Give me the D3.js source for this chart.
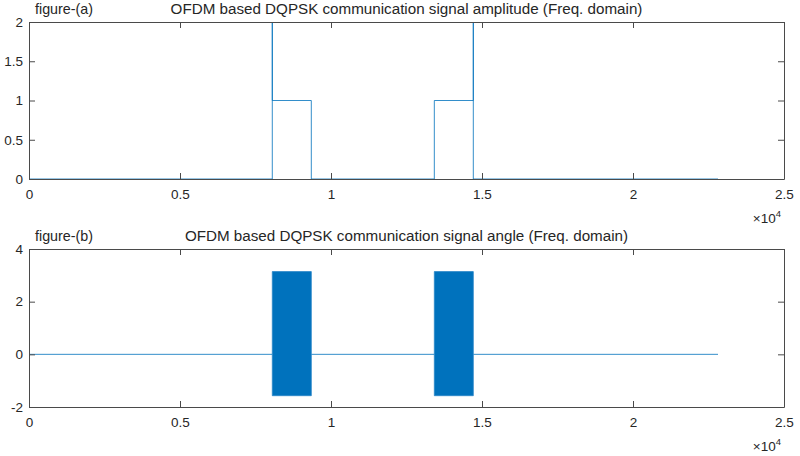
<!DOCTYPE html>
<html>
<head>
<meta charset="utf-8">
<script src="https://cdn.jsdelivr.net/npm/d3@7"></script>
<style>
  html, body { margin: 0; padding: 0; background: #fff; }
  svg { display: block; font-family: "Liberation Sans", Arial, Helvetica, sans-serif; }
</style>
</head>
<body>
<svg id="chart" width="800" height="456"></svg>
<script>
// ---------- data ----------
const xDomain = [0, 25000];
const xTickValues = [0, 5000, 10000, 15000, 20000, 25000];
const xTickLabels = ["0", "0.5", "1", "1.5", "2", "2.5"];
const xExponentBase = "\u00d710";
const xExponent = "4";

// (a) amplitude spectrum: breakpoints (sample index) and magnitudes
const ampX = [0, 8056, 8056, 8056, 9348, 9348, 13421, 13421, 14712, 14712, 14712, 22815];
const ampY = [0, 0, 2.6, 1, 1, 0, 0, 1, 1, 2.6, 0, 0];
const ampDomain = [0, 2];
const ampTicks = [0, 0.5, 1, 1.5, 2];
const ampTickLabels = ["0", "0.5", "1", "1.5", "2"];

// (b) angle spectrum: flat segments at zero and densely oscillating bands
const angleFlatStart = [0, 9348, 14712];
const angleFlatEnd = [8056, 13421, 22815];
const angleFlatValue = [0, 0, 0];
const angleBandStart = [8056, 13421];
const angleBandEnd = [9348, 14712];
const angleBandMin = [-1.5708, -1.5708];
const angleBandMax = [3.1416, 3.1416];
const angleDomain = [-2, 4];
const angleTicks = [-2, 0, 2, 4];
const angleTickLabels = ["-2", "0", "2", "4"];

const titles = [
  "OFDM based DQPSK communication signal amplitude (Freq. domain)",
  "OFDM based DQPSK communication signal angle (Freq. domain)"
];
const panelLabels = ["figure-(a)", "figure-(b)"];

// ---------- layout ----------
const svg = d3.select("#chart");
const left = 29, right = 784;
const panels = [
  { top: 22, bottom: 179, domain: ampDomain, ticks: ampTicks, labels: ampTickLabels },
  { top: 249, bottom: 407, domain: angleDomain, ticks: angleTicks, labels: angleTickLabels }
];
const axisColor = "#4a4a4a";
const textColor = "#262626";
const lineColor = "#0072BD";
const tickLen = 6;

const x = d3.scaleLinear().domain(xDomain).range([left, right]);

panels.forEach((p, i) => {
  const y = d3.scaleLinear().domain(p.domain).range([p.bottom, p.top]);
  const g = svg.append("g");

  svg.append("clipPath").attr("id", "clip" + i)
    .append("rect").attr("x", left).attr("y", p.top)
    .attr("width", right - left).attr("height", p.bottom - p.top);

  const data = g.append("g").attr("clip-path", `url(#clip${i})`);
  if (i === 0) {
    const pts = ampX.map((v, k) => [v, ampY[k]]);
    data.append("path")
      .attr("d", d3.line().x(d => x(d[0])).y(d => y(d[1]))(pts))
      .attr("fill", "none").attr("stroke", lineColor).attr("stroke-width", 1).attr("stroke-opacity", 0.8);
  } else {
    angleFlatStart.forEach((s, k) => {
      const pts = [[s, angleFlatValue[k]], [angleFlatEnd[k], angleFlatValue[k]]];
      data.append("path")
        .attr("d", d3.line().x(d => x(d[0])).y(d => y(d[1]))(pts))
        .attr("fill", "none").attr("stroke", lineColor).attr("stroke-width", 1).attr("stroke-opacity", 0.8);
    });
    angleBandStart.forEach((s, k) => {
      const pts = [s, angleBandEnd[k]];
      data.append("path")
        .attr("d", d3.area().x(d => x(d)).y0(y(angleBandMin[k])).y1(y(angleBandMax[k]))(pts))
        .attr("fill", lineColor).attr("stroke", "#2a86c8").attr("stroke-width", 0.8);
    });
  }

  const axB = d3.axisBottom(x).tickValues(xTickValues).tickFormat((d, k) => xTickLabels[k])
    .tickSizeInner(-tickLen).tickSizeOuter(0).tickPadding(10);
  const axT = d3.axisTop(x).tickValues(xTickValues).tickFormat("")
    .tickSizeInner(-tickLen).tickSizeOuter(0);
  const axL = d3.axisLeft(y).tickValues(p.ticks).tickFormat((d, k) => p.labels[k])
    .tickSizeInner(-tickLen).tickSizeOuter(0).tickPadding(6);
  const axR = d3.axisRight(y).tickValues(p.ticks).tickFormat("")
    .tickSizeInner(-tickLen).tickSizeOuter(0);

  const gB = g.append("g").attr("transform", `translate(0,${p.bottom})`).call(axB);
  const gT = g.append("g").attr("transform", `translate(0,${p.top})`).call(axT);
  const gL = g.append("g").attr("transform", `translate(${left},0)`).call(axL);
  const gR = g.append("g").attr("transform", `translate(${right},0)`).call(axR);
  [gB, gT, gL, gR].forEach(a => {
    a.select(".domain").attr("stroke", axisColor);
    a.selectAll(".tick line").attr("stroke", axisColor);
    a.selectAll(".tick text").attr("fill", textColor).attr("font-size", 13.5)
      .attr("font-family", "'Liberation Sans', Arial, sans-serif");
  });

  const ex = g.append("text").attr("x", right - 3).attr("y", p.bottom + 44)
    .attr("text-anchor", "end").attr("fill", textColor).attr("font-size", 13.5);
  ex.append("tspan").text(xExponentBase);
  ex.append("tspan").attr("font-size", 9.5).attr("dy", -6).text(xExponent);

  g.append("text").attr("x", (left + right) / 2).attr("y", p.top - 8)
    .attr("text-anchor", "middle").attr("fill", textColor).attr("font-size", 15.2)
    .text(titles[i]);
  g.append("text").attr("x", 35).attr("y", p.top - 8)
    .attr("fill", textColor).attr("font-size", 14.3)
    .text(panelLabels[i]);
});
</script>
</body>
</html>
